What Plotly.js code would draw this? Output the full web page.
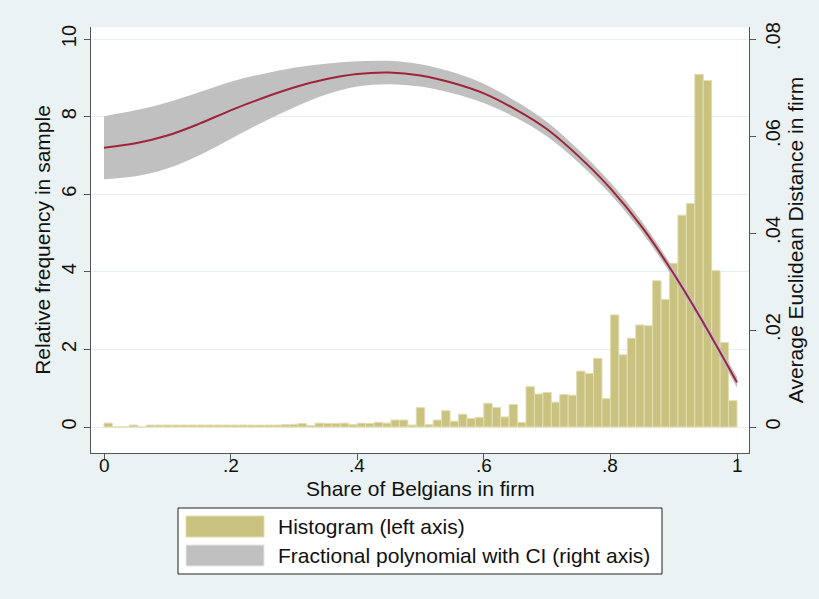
<!DOCTYPE html>
<html>
<head>
<meta charset="utf-8">
<script src="https://cdn.plot.ly/plotly-3.0.1.min.js"></script>
<style>html,body{margin:0;padding:0;background:#EAF2F3;}#chart{width:819px;height:599px;}</style>
</head>
<body>
<div id="chart"></div>
<script>
// Histogram: relative frequency (density) in 75 equal bins over [0,1]
const binHeights = [
  0.10, 0.00, 0.00, 0.05, 0.00, 0.05, 0.05, 0.05, 0.05, 0.05,
  0.05, 0.05, 0.05, 0.05, 0.05, 0.05, 0.05, 0.05, 0.05, 0.05,
  0.05, 0.06, 0.07, 0.09, 0.04, 0.10, 0.09, 0.09, 0.10, 0.06,
  0.10, 0.09, 0.12, 0.10, 0.18, 0.18, 0.05, 0.50, 0.06, 0.18,
  0.42, 0.15, 0.33, 0.22, 0.25, 0.61, 0.50, 0.26, 0.58, 0.12,
  1.04, 0.85, 0.89, 0.64, 0.84, 0.82, 1.44, 1.38, 1.77, 0.73,
  2.89, 1.86, 2.29, 2.63, 2.61, 3.77, 3.29, 4.22, 5.46, 5.76,
  9.09, 8.93, 4.03, 2.18, 0.68
];
const binMin = 0, binMax = 1;

// Fractional polynomial fit with CI (right axis)
const fpShare = [0,0.05,0.1,0.15,0.2,0.25,0.3,0.35,0.4,0.45,0.5,0.55,0.6,0.65,0.7,0.75,0.8,0.85,0.9,0.95,1];
const fpFit = [0.0576,0.0585,0.0601,0.0625,0.0653,0.0678,0.0700,0.0717,0.0728,0.0731,0.0725,0.0710,0.0688,0.0655,0.0614,0.0558,0.0492,0.0412,0.0316,0.0208,0.0092];
const fpLow = [0.0511,0.0517,0.0533,0.0560,0.0594,0.0628,0.0659,0.0685,0.0702,0.0707,0.0702,0.0688,0.0668,0.0638,0.0599,0.0545,0.0480,0.0401,0.0306,0.0198,0.0081];
const fpHigh = [0.0641,0.0653,0.0669,0.0690,0.0712,0.0728,0.0741,0.0749,0.0754,0.0755,0.0748,0.0732,0.0708,0.0672,0.0629,0.0571,0.0504,0.0423,0.0326,0.0218,0.0103];

const xTicks = [0,0.2,0.4,0.6,0.8,1];
const xTickText = ['0','.2','.4','.6','.8','1'];
const yTicks = [0,2,4,6,8,10];
const yTickText = ['0','2','4','6','8','10'];
const y2Ticks = [0,0.02,0.04,0.06,0.08];
const y2TickText = ['0','.02','.04','.06','.08'];

const legendLabels = ['Histogram (left axis)', 'Fractional polynomial with CI (right axis)'];

const nb = binHeights.length;
const bw = (binMax - binMin) / nb;
const binCenters = binHeights.map((_, i) => binMin + (i + 0.5) * bw);

const barColor = 'rgb(201,194,128)';
const barEdge = 'rgb(226,222,176)';
const ciColor = 'rgb(192,192,192)';
const lineColor = 'rgb(158,36,56)';
const axisColor = '#555555';
const font = 'Liberation Sans, Arial, sans-serif';

const traces = [
  {type:'bar', x:binCenters, y:binHeights, width:bw, xaxis:'x', yaxis:'y',
   marker:{color:barColor, line:{color:barEdge, width:1}}, showlegend:false, hoverinfo:'skip'},
  {type:'scatter', mode:'lines', x:fpShare, y:fpLow, xaxis:'x', yaxis:'y2',
   line:{width:0, shape:'spline', color:ciColor}, showlegend:false, hoverinfo:'skip'},
  {type:'scatter', mode:'lines', x:fpShare, y:fpHigh, xaxis:'x', yaxis:'y2', fill:'tonexty',
   fillcolor:ciColor, line:{width:0, shape:'spline', color:ciColor}, showlegend:false, hoverinfo:'skip'},
  {type:'scatter', mode:'lines', x:fpShare, y:fpFit, xaxis:'x', yaxis:'y2',
   line:{width:2, shape:'spline', color:lineColor}, showlegend:false, hoverinfo:'skip'}
];

// plot area in pixels
const W = 819, H = 599;
const L = 91, R = 749, T = 27, B = 453;
const px = v => (v - L) / (R - L);
const py = v => (B - v) / (B - T);

const yRange = [-0.67, 10.31];
const shapes = [
  {type:'rect', xref:'paper', yref:'paper', x0:px(178), x1:px(662), y0:py(508), y1:py(574),
   fillcolor:'white', line:{color:'#222', width:1}, layer:'above'},
  {type:'rect', xref:'paper', yref:'paper', x0:px(186), x1:px(264), y0:py(516), y1:py(537),
   fillcolor:barColor, line:{color:barEdge, width:1}, layer:'above'},
  {type:'rect', xref:'paper', yref:'paper', x0:px(186), x1:px(264), y0:py(545), y1:py(566),
   fillcolor:ciColor, line:{color:'rgb(230,230,230)', width:1}, layer:'above'}
];
const annotations = [
  {xref:'paper', yref:'paper', x:px(276), y:py(526), xanchor:'left', yanchor:'middle', showarrow:false,
   text:legendLabels[0], font:{family:font, size:21, color:'#111'}},
  {xref:'paper', yref:'paper', x:px(276), y:py(555), xanchor:'left', yanchor:'middle', showarrow:false,
   text:legendLabels[1], font:{family:font, size:21, color:'#111'}}
];
// x tick labels placed via the x axis scale
xTicks.forEach((v, i) => annotations.push({
  xref:'x', yref:'paper', x:v, y:py(465), xanchor:'center', yanchor:'middle', showarrow:false,
  text:xTickText[i], font:{family:font, size:19, color:'#111'}
}));
annotations.push({xref:'paper', yref:'paper', x:px(420), y:py(488), xanchor:'center', yanchor:'middle',
  showarrow:false, text:'Share of Belgians in firm', font:{family:font, size:21, color:'#111'}});

const layout = {
  width:W, height:H,
  paper_bgcolor:'#EAF2F3', plot_bgcolor:'white',
  margin:{l:L, r:W-R, t:T, b:H-B, pad:0},
  font:{family:font, size:20, color:'#111'},
  showlegend:false,
  bargap:0,
  xaxis:{range:[-13/633, 1+12/633], tickvals:xTicks, ticktext:xTickText, ticks:'outside', ticklen:6,
         tickcolor:axisColor, showline:true, linecolor:axisColor, linewidth:1, showgrid:false, zeroline:false,
         showticklabels:false, automargin:false},
  yaxis:{range:yRange, tickvals:yTicks, ticktext:yTickText, tickangle:-90, ticks:'outside', ticklen:6,
         tickcolor:axisColor, showline:true, linecolor:axisColor, linewidth:1, showgrid:true, gridcolor:'#E6EFF1',
         gridwidth:1, zeroline:false, tickfont:{size:20},
         title:{text:'Relative frequency in sample', font:{size:21}, standoff:1}, automargin:false},
  yaxis2:{range:[yRange[0]*0.008, yRange[1]*0.008], overlaying:'y', side:'right', tickvals:y2Ticks, ticktext:y2TickText,
          tickangle:-90, ticks:'outside', ticklen:6, tickcolor:axisColor, showline:true, linecolor:axisColor, linewidth:1,
          showgrid:false, zeroline:false, tickfont:{size:20},
          title:{text:'Average Euclidean Distance in firm', font:{size:21}, standoff:1}, automargin:false},
  shapes:shapes,
  annotations:annotations
};

Plotly.newPlot('chart', traces, layout, {staticPlot:true, displayModeBar:false});
</script>
</body>
</html>
